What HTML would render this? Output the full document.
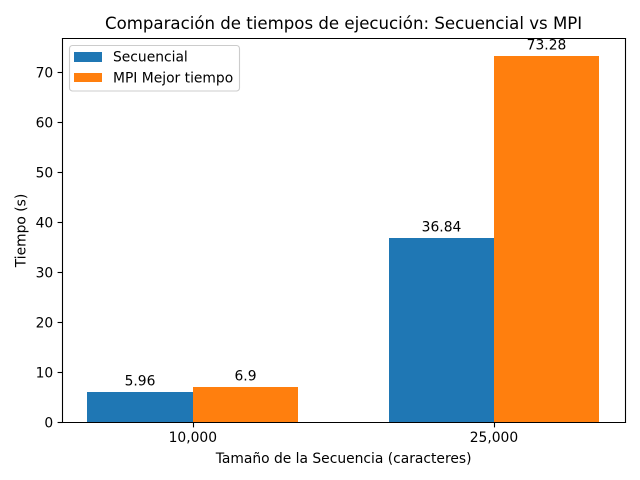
<!DOCTYPE html>
<html lang="es">
<head>
<meta charset="utf-8">
<title>Comparación de tiempos de ejecución</title>
<style>
html,body{margin:0;padding:0;background:#fff;}
svg{display:block;}
text{font-family:"DejaVu Sans",sans-serif;fill:#000;}
</style>
</head>
<body>
<svg id="chart" xmlns="http://www.w3.org/2000/svg" width="640" height="480" viewBox="0 0 640 480">
  <rect x="0" y="0" width="640" height="480" fill="#fff"/>
  <text x="343.6" y="29" font-size="16.6" text-anchor="middle">Comparación de tiempos de ejecución: Secuencial vs MPI</text>
  <g id="bars" shape-rendering="crispEdges"></g>
  <g id="ticks"></g>
  <g id="labels"></g>
  <g stroke="#000" stroke-width="1.1" fill="none" stroke-linecap="square">
    <line x1="62.5" y1="38.5" x2="62.5" y2="422.5"/>
    <line x1="625.5" y1="38.5" x2="625.5" y2="422.5"/>
    <line x1="62.5" y1="38.5" x2="625.5" y2="38.5"/>
    <line x1="62.5" y1="422.5" x2="625.5" y2="422.5"/>
  </g>
  <text x="343.6" y="463" font-size="13.85" text-anchor="middle">Tamaño de la Secuencia (caracteres)</text>
  <text transform="translate(25.7,230.5) rotate(-90)" font-size="13.85" text-anchor="middle">Tiempo (s)</text>
  <g>
    <rect x="69.5" y="45.5" width="170" height="45.5" rx="3" ry="3" fill="#fff" fill-opacity="0.8" stroke="#ccc" stroke-width="1.11"/>
    <rect x="74" y="52" width="28" height="10" fill="#1f77b4" shape-rendering="crispEdges"/>
    <text x="113" y="61.5" font-size="13.85">Secuencial</text>
    <rect x="74" y="73" width="28" height="9" fill="#ff7f0e" shape-rendering="crispEdges"/>
    <text x="113" y="82.5" font-size="13.85">MPI Mejor tiempo</text>
  </g>
</svg>
<script>
const categories = ["10,000", "25,000"];
const secuencialValues = [5.96, 36.84];
const mpiValues = [6.9, 73.28];
const secuencialLabels = ["5.96", "36.84"];
const mpiLabels = ["6.9", "73.28"];
const yTickValues = [0, 10, 20, 30, 40, 50, 60, 70];

const NS = "http://www.w3.org/2000/svg";
const plotLeft = 61.85, plotRight = 624.95, plotTop = 37.6, plotBottom = 421.9, axisBottom = 422;
const barWidth = 0.35;
const yMax = Math.max(...secuencialValues, ...mpiValues) * 1.05;
const xPad = 0.05 * (categories.length - 1 + 2 * barWidth);
const xMin = -barWidth - xPad;
const xMax = categories.length - 1 + barWidth + xPad;

function xScale(v) { return plotLeft + (v - xMin) / (xMax - xMin) * (plotRight - plotLeft); }
function yScale(v) { return plotBottom - v / yMax * (plotBottom - plotTop); }

function make(tag, attrs, parent, content) {
  const el = document.createElementNS(NS, tag);
  for (const k in attrs) el.setAttribute(k, attrs[k]);
  if (content !== undefined) el.textContent = content;
  parent.appendChild(el);
  return el;
}

const barsG = document.getElementById("bars");
const ticksG = document.getElementById("ticks");
const labelsG = document.getElementById("labels");

function drawSeries(values, printed, offset, color, seriesName) {
  values.forEach(function (v, i) {
    const x0 = Math.round(xScale(i + offset - barWidth / 2));
    const x1 = Math.round(xScale(i + offset + barWidth / 2));
    const top = Math.round(yScale(v));
    const bar = make("rect", { x: x0, y: top, width: x1 - x0, height: axisBottom - top, fill: color }, barsG);
    
    
    const label = make("text", { x: (x0 + x1) / 2, y: top - 6.5, "font-size": 13.85, "text-anchor": "middle" }, labelsG, printed[i]);
    
    
  });
}
drawSeries(secuencialValues, secuencialLabels, -barWidth / 2, "#1f77b4", "secuencial");
drawSeries(mpiValues, mpiLabels, barWidth / 2, "#ff7f0e", "mpi");

categories.forEach(function (c, i) {
  const x = Math.round(xScale(i)) + 0.5;
  const tick = make("line", { x1: x, x2: x, y1: axisBottom + 0.5, y2: axisBottom + 5.4, stroke: "#000", "stroke-width": 1.1 }, ticksG);
  
  
  const label = make("text", { x: xScale(i), y: 442, "font-size": 13.85, "text-anchor": "middle" }, ticksG, c);
  
  
});

yTickValues.forEach(function (v) {
  const y = Math.round(yScale(v)) + 0.5;
  const tick = make("line", { x1: 62.5 - 4.9, x2: 62.5, y1: y, y2: y, stroke: "#000", "stroke-width": 1.1 }, ticksG);
  
  
  const label = make("text", { x: 53.2, y: yScale(v) + 5.4, "font-size": 13.85, "text-anchor": "end" }, ticksG, String(v));
  
  
});
</script>
</body>
</html>
